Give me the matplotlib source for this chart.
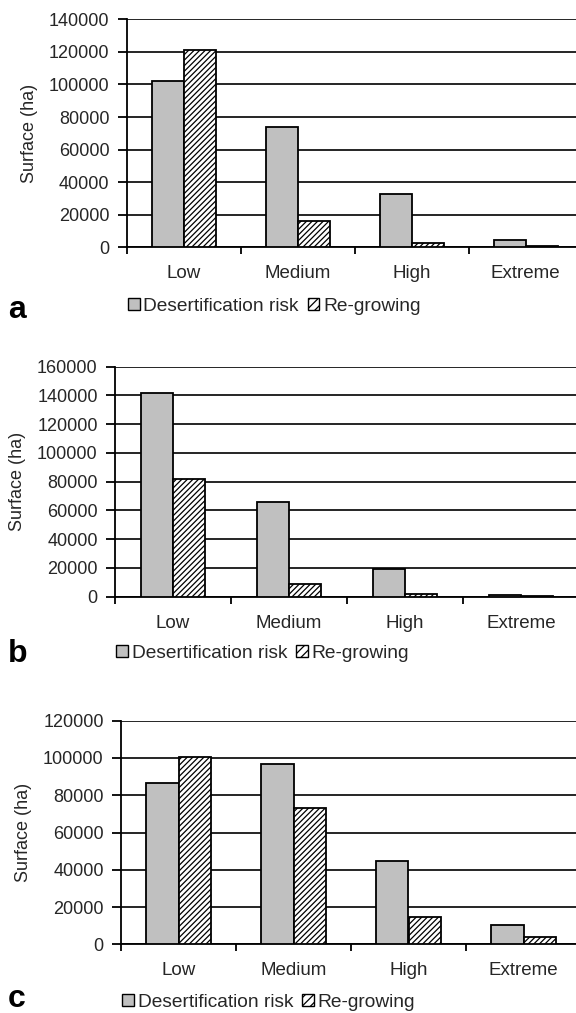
import numpy as np
import matplotlib
matplotlib.use("Agg")
import matplotlib.pyplot as plt
from matplotlib.patches import Patch

# =========================
# DATA (surface in ha)
# =========================
categories = ["Low", "Medium", "High", "Extreme"]
series_names = ["Desertification risk", "Re-growing"]

desert_a = [102000, 74000, 33000, 4500]
regrow_a = [121000, 16000, 2500, 800]

desert_b = [142000, 66000, 19500, 1000]
regrow_b = [82000, 9000, 2000, 200]

desert_c = [86500, 96500, 44500, 10500]
regrow_c = [100500, 73000, 14500, 4000]

ymax_list = [140000, 160000, 120000]
panel_letters = ["a", "b", "c"]

# =========================
# STYLE
# =========================
plt.rcParams["font.family"] = ["Liberation Sans", "DejaVu Sans"]
plt.rcParams["hatch.linewidth"] = 0.9
TXT = "#262626"
GRAY = "#c0c0c0"
FS = 13
W, H = 576, 1013

fig = plt.figure(figsize=(W / 100, H / 100), dpi=100)
fig.patch.set_facecolor("white")

# pixel layout per panel: axes left/top/bottom, category width,
# ylabel x, panel letter y, legend y
layout = [
    dict(left=126.7, top=19.3, bottom=247.3, cat=114, ylab_x=29,
         letter_y=310, leg_y=306),
    dict(left=115.0, top=366.7, bottom=596.7, cat=116, ylab_x=18,
         letter_y=654, leg_y=653),
    dict(left=121.0, top=720.7, bottom=944.3, cat=115, ylab_x=24,
         letter_y=999, leg_y=1002),
]

panels = [(desert_a, regrow_a), (desert_b, regrow_b), (desert_c, regrow_c)]
bw = 0.28
x = np.arange(len(categories))


def draw_panel(desert, regrow, ymax, lay, letter):
    width = 4 * lay["cat"]
    ax = fig.add_axes([lay["left"] / W, 1 - lay["bottom"] / H,
                       width / W, (lay["bottom"] - lay["top"]) / H])
    ax.set_xlim(-0.5, 3.5)
    ax.set_ylim(0, ymax)
    ax.set_yticks(np.arange(0, ymax + 1, 20000))
    ax.yaxis.grid(True, color="black", lw=1.2)
    ax.set_axisbelow(True)

    ax.bar(x - bw / 2, desert, width=bw, color=GRAY, edgecolor="black",
           lw=1.3, zorder=3)
    ax.bar(x + bw / 2, regrow, width=bw, color="white", edgecolor="black",
           lw=1.3, hatch="//////", zorder=3)

    for s in ["top", "right"]:
        ax.spines[s].set_visible(False)
    for s in ["left", "bottom"]:
        ax.spines[s].set_linewidth(1.3)

    ax.set_xticks(x)
    ax.set_xticklabels(categories)
    ax.set_xticks(np.arange(-0.5, 3.6, 1), minor=True)
    ax.tick_params(axis="x", which="major", length=0, pad=13,
                   labelsize=13.5, labelcolor=TXT)
    ax.tick_params(axis="x", which="minor", length=5, width=1.3,
                   direction="out")
    ax.tick_params(axis="y", length=6.5, width=1.3, pad=6,
                   labelsize=FS, labelcolor=TXT)

    yc = (lay["top"] + lay["bottom"]) / 2
    fig.text(lay["ylab_x"] / W, 1 - yc / H, "Surface (ha)", rotation=90,
             ha="center", va="center", fontsize=FS, color=TXT)
    fig.text(8 / W, 1 - lay["letter_y"] / H, letter, ha="left", va="center",
             fontsize=23, fontweight="bold", color="black")

    handles = [Patch(facecolor=GRAY, edgecolor="black", lw=1),
               Patch(facecolor="white", edgecolor="black", lw=1, hatch="////")]
    ax.legend(handles, series_names, loc="center left",
              bbox_to_anchor=((lay["left"] + 1) / W, 1 - lay["leg_y"] / H),
              bbox_transform=fig.transFigure, frameon=False, ncol=2,
              handlelength=0.62, handleheight=0.62, handletextpad=0.2,
              columnspacing=0.45, borderpad=0, borderaxespad=0,
              fontsize=13.8, labelcolor=TXT)
    return ax


for (d, r), ymax, lay, letter in zip(panels, ymax_list, layout, panel_letters):
    draw_panel(d, r, ymax, lay, letter)

fig.savefig("out.png", dpi=100, facecolor="white")
